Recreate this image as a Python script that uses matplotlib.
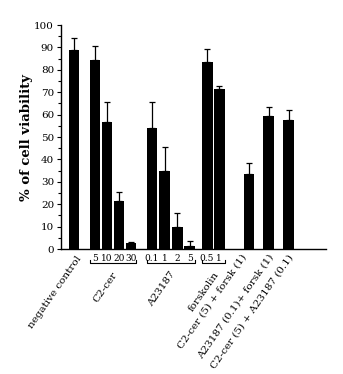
import matplotlib
matplotlib.use("Agg")
import matplotlib.pyplot as plt

plt.rc('font', family='DejaVu Serif', size=7.5)

# mean % viability and upper error for every treatment
viability = [88.8, 84.4, 56.8, 21.3, 2.5, 54.0, 35.0, 10.0, 1.3, 83.7, 71.4, 33.7, 59.3, 57.7]
errors = [5.2, 6.2, 8.8, 4.0, 0.8, 11.6, 10.5, 6.0, 2.4, 5.7, 1.6, 4.8, 4.0, 4.6]

# bar slots along the x axis
positions = [0, 1.75, 2.75, 3.75, 4.75, 6.5, 7.55, 8.6, 9.65, 11.1, 12.1, 14.6, 16.25, 17.9]

c2_doses = ['5', '10', '20', '30']
a23_doses = ['0.1', '1', '2', '5']
forsk_doses = ['0.5', '1']

group_labels = ['negative control', 'C2-cer', 'A23187', 'forskolin',
                'C2-cer (5) + forsk (1)', 'A23187 (0.1)+ forsk (1)', 'C2-cer (5) + A23187 (0.1)']

fig = plt.figure(figsize=(3.43, 3.74), dpi=100)
fig.set_facecolor('white')
ax = fig.add_axes([0.178, 0.334, 0.772, 0.599])

ax.bar(positions, viability, width=0.9, color='black')
ax.errorbar(positions, viability, yerr=[[0] * len(errors), errors], fmt='none',
            ecolor='black', elinewidth=0.9, capsize=2.5, capthick=0.9)

ax.set_xlim(-1.08, 21.0)
ax.set_ylim(0, 100)
ax.set_yticks(range(0, 101, 10))
ax.set_yticks(range(5, 100, 10), minor=True)
ax.tick_params(axis='y', length=3, width=0.8, pad=2, labelsize=7.5)
ax.tick_params(axis='y', which='minor', length=2, width=0.8)
ax.set_xticks([])
ax.spines['right'].set_visible(False)
ax.spines['top'].set_visible(False)
for s in ('left', 'bottom'):
    ax.spines[s].set_linewidth(1.0)

ax.set_ylabel('% of cell viability', fontsize=9.5, fontweight='bold', labelpad=1)

# dose numbers with a bracket under each group
groups = [(positions[1:5], c2_doses), (positions[5:9], a23_doses), (positions[9:11], forsk_doses)]
for xs, doses in groups:
    for x, d in zip(xs, doses):
        ax.text(x, -2.0, d, ha='center', va='top', fontsize=6.5, clip_on=False)
    left, right = xs[0] - 0.45, xs[-1] + 0.45
    ax.plot([left, left, right, right], [-4.8, -6.0, -6.0, -4.8], color='black',
            lw=0.8, clip_on=False)

# rotated treatment names
label_x = [0.5, (positions[1] + positions[4]) / 2 + 0.2, (positions[5] + positions[8]) / 2 + 0.2,
           (positions[9] + positions[10]) / 2 + 0.3, positions[11] - 0.4, positions[12] + 0.2,
           positions[13] + 0.2]
label_y = [-3.5, -10.5, -10.5, -10.5, -2.8, -2.8, -3.0]
for x, y, lab in zip(label_x, label_y, group_labels):
    ax.text(x, y, lab, rotation=55, rotation_mode='anchor', ha='right', va='center',
            fontsize=7.5, clip_on=False)

fig.savefig('out.png', dpi=100)
